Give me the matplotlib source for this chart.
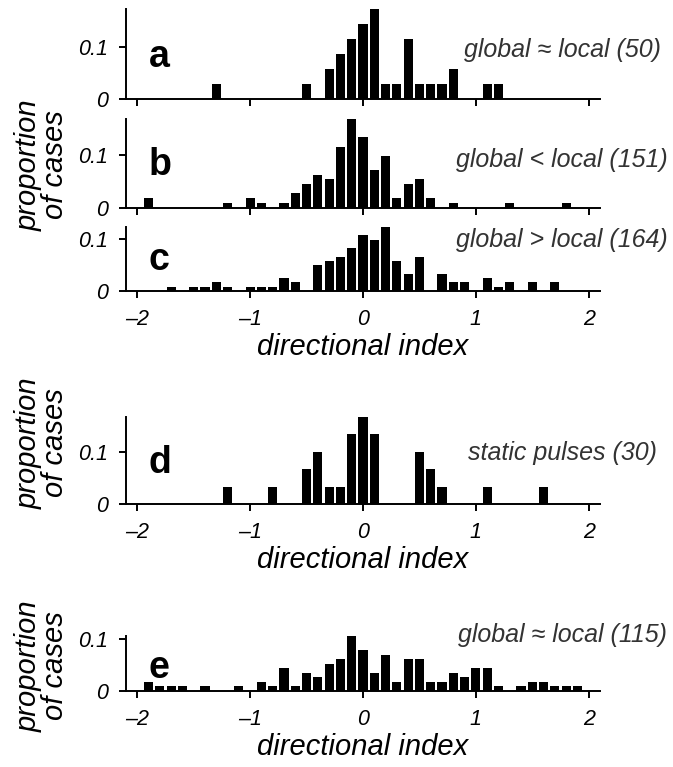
import numpy as np
import matplotlib
matplotlib.use('Agg')
import matplotlib.pyplot as plt

plt.rcParams['font.family'] = ['Liberation Sans', 'DejaVu Sans']

# ---------------- data ----------------
bin_centers = np.round(np.arange(-2.0, 2.001, 0.1), 1)   # 41 bins, width 0.1

counts_a = [0, 0, 0, 0, 0, 0, 0, 1, 0, 0,
            0, 0, 0, 0, 0, 1, 0, 2, 3, 4,
            5, 6, 1, 1, 4, 1, 1, 1, 2, 0,
            0, 1, 1, 0, 0, 0, 0, 0, 0, 0,
            0]
counts_b = [0, 2, 0, 0, 0, 0, 0, 0, 1, 0,
            2, 1, 0, 1, 3, 5, 7, 6, 13, 19,
            15, 8, 11, 2, 5, 6, 2, 0, 1, 0,
            0, 0, 0, 1, 0, 0, 0, 0, 1, 0,
            0]
counts_c = [0, 0, 0, 1, 0, 1, 1, 2, 1, 0,
            1, 1, 1, 3, 2, 0, 6, 7, 8, 10,
            13, 12, 15, 7, 4, 8, 0, 4, 2, 2,
            0, 3, 1, 2, 0, 2, 0, 2, 0, 0,
            0]
counts_d = [0, 0, 0, 0, 0, 0, 0, 0, 1, 0,
            0, 0, 1, 0, 0, 2, 3, 1, 1, 4,
            5, 4, 0, 0, 0, 3, 2, 1, 0, 0,
            0, 1, 0, 0, 0, 0, 1, 0, 0, 0,
            0]
counts_e = [0, 2, 1, 1, 1, 0, 1, 0, 0, 1,
            0, 2, 1, 5, 1, 4, 3, 6, 7, 12,
            9, 4, 8, 2, 7, 7, 2, 2, 4, 3,
            5, 5, 1, 0, 1, 2, 2, 1, 1, 1,
            0]

panel_letters = ['a', 'b', 'c', 'd', 'e']
condition_labels = ['global \u2248 local (50)', 'global < local (151)',
                    'global > local (164)', 'static pulses (30)',
                    'global \u2248 local (115)']
xtick_values = [-2, -1, 0, 1, 2]
xtick_labels = ['\u20132', '\u20131', '0', '1', '2']
ytick_values = [0, 0.1]
ytick_labels = ['0', '0.1']
xlabel_text = 'directional index'
ylabel_text = 'proportion\nof cases'

all_counts = [counts_a, counts_b, counts_c, counts_d, counts_e]

# ---------------- layout (pixels) ----------------
W, H = 673, 767
fig = plt.figure(figsize=(W / 100, H / 100), dpi=100)
PX_PER_UNIT = 523.0
LEFT, RIGHT = 126, 600
baselines = [99, 207.5, 291, 504, 691]
letter_baselines = [67, 175, 270, 473, 678]
label_baselines = [57, 167, 247, 460, 642]
show_xticklabels = [False, False, True, True, True]

def fx(x):
    return x / W

def fy(y):
    return 1 - y / H

LW = 1.4
axes = []
for i, counts in enumerate(all_counts):
    counts = np.asarray(counts, dtype=float)
    props = counts / counts.sum()
    top_val = props.max()
    h_px = top_val * PX_PER_UNIT
    bottom = baselines[i]
    ax = fig.add_axes([fx(LEFT), fy(bottom), (RIGHT - LEFT) / W, h_px / H])
    ax.bar(bin_centers, props, width=0.08, color='black', linewidth=0)
    ax.set_xlim(-2.1, 2.1)
    ax.set_ylim(0, top_val)
    for s in ['top', 'right']:
        ax.spines[s].set_visible(False)
    for s in ['left', 'bottom']:
        ax.spines[s].set_linewidth(LW)
    ax.set_xticks(xtick_values)
    ax.set_yticks(ytick_values)
    ax.set_yticklabels(ytick_labels, fontstyle='italic', fontsize=15.5)
    if show_xticklabels[i]:
        ax.set_xticklabels(xtick_labels, fontstyle='italic', fontsize=15.5)
        ax.set_xlabel(xlabel_text, fontstyle='italic', fontsize=21, labelpad=2)
    else:
        ax.set_xticklabels([])
    ax.tick_params(axis='both', direction='out', length=5, width=LW)
    ax.tick_params(axis='y', pad=8)
    ax.tick_params(axis='x', pad=8)
    fig.text(fx(149), fy(letter_baselines[i]), panel_letters[i], fontsize=27,
             fontweight='bold', ha='left', va='baseline')
    fig.text(fx(562), fy(label_baselines[i]), condition_labels[i], fontsize=18,
             fontstyle='italic', ha='center', va='baseline', color='#333333')
    axes.append(ax)

# y labels
for yc in [165, 443, 666]:
    fig.text(fx(42), fy(yc), ylabel_text, rotation=90, fontsize=21,
             fontstyle='italic', ha='center', va='center', multialignment='center',
             linespacing=0.95)

fig.savefig('out.png', dpi=100)
